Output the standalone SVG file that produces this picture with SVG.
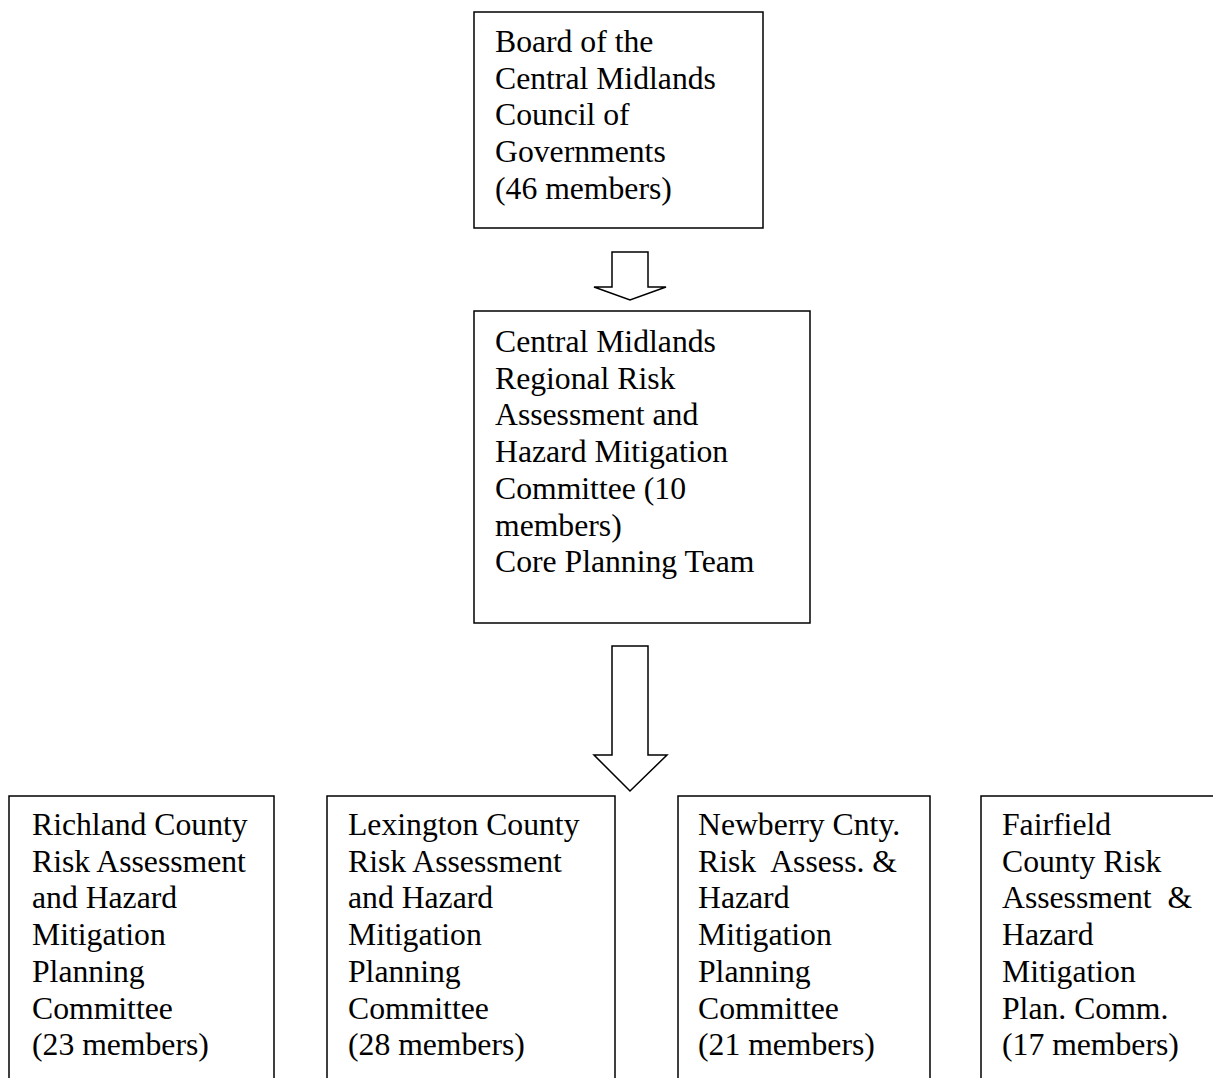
<svg xmlns="http://www.w3.org/2000/svg" width="1213" height="1078" viewBox="0 0 1213 1078">
<style>
.box{fill:#fff;stroke:#000;stroke-width:1.5}
.arr{fill:#fff;stroke:#000;stroke-width:1.5;stroke-linejoin:miter}
text{font-family:"Liberation Serif","Times New Roman",serif;font-size:31.7px;fill:#000;white-space:pre}
</style>
<rect width="1213" height="1078" fill="#fff"/>
<g id="connectors">
<polygon class="arr" points="612,252 648,252 648,287 666,287 630,300 594,287 612,287"/>
<polygon class="arr" points="612,646 648,646 648,755 667,755 630,791 594,755 612,755"/>
</g>
<g id="board">
<rect class="box" x="474" y="12" width="289" height="216"/>
<text x="495" y="52">Board of the</text>
<text x="495" y="89">Central Midlands</text>
<text x="495" y="125">Council of</text>
<text x="495" y="162">Governments</text>
<text x="495" y="199">(46 members)</text>
</g>
<g id="regional">
<rect class="box" x="474" y="311" width="336" height="312"/>
<text x="495" y="352">Central Midlands</text>
<text x="495" y="389">Regional Risk</text>
<text x="495" y="425">Assessment and</text>
<text x="495" y="462">Hazard Mitigation</text>
<text x="495" y="499">Committee (10</text>
<text x="495" y="536">members)</text>
<text x="495" y="572">Core Planning Team</text>
</g>
<g id="richland">
<rect class="box" x="9" y="796" width="265" height="300"/>
<text x="32" y="835">Richland County</text>
<text x="32" y="872">Risk Assessment</text>
<text x="32" y="908">and Hazard</text>
<text x="32" y="945">Mitigation</text>
<text x="32" y="982">Planning</text>
<text x="32" y="1019">Committee</text>
<text x="32" y="1055">(23 members)</text>
</g>
<g id="lexington">
<rect class="box" x="327" y="796" width="288" height="300"/>
<text x="348" y="835">Lexington County</text>
<text x="348" y="872">Risk Assessment</text>
<text x="348" y="908">and Hazard</text>
<text x="348" y="945">Mitigation</text>
<text x="348" y="982">Planning</text>
<text x="348" y="1019">Committee</text>
<text x="348" y="1055">(28 members)</text>
</g>
<g id="newberry">
<rect class="box" x="678" y="796" width="252" height="300"/>
<text x="698" y="835">Newberry Cnty.</text>
<text x="698" y="872">Risk  Assess. &amp;</text>
<text x="698" y="908">Hazard</text>
<text x="698" y="945">Mitigation</text>
<text x="698" y="982">Planning</text>
<text x="698" y="1019">Committee</text>
<text x="698" y="1055">(21 members)</text>
</g>
<g id="fairfield">
<rect class="box" x="981" y="796" width="250" height="300"/>
<text x="1002" y="835">Fairfield</text>
<text x="1002" y="872">County Risk</text>
<text x="1002" y="908">Assessment  &amp;</text>
<text x="1002" y="945">Hazard</text>
<text x="1002" y="982">Mitigation</text>
<text x="1002" y="1019">Plan. Comm.</text>
<text x="1002" y="1055">(17 members)</text>
</g>
</svg>
